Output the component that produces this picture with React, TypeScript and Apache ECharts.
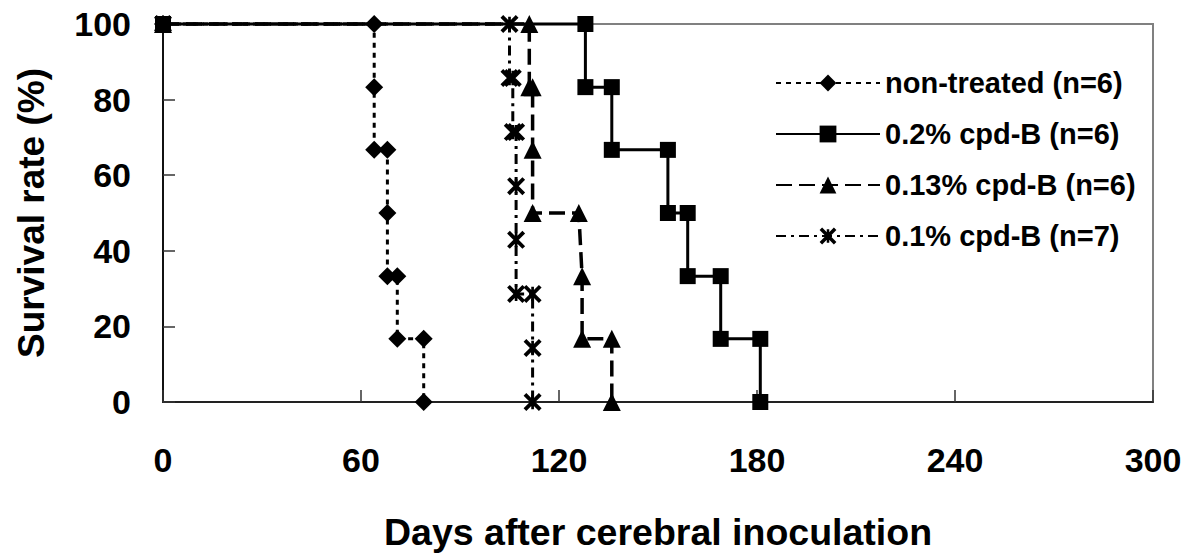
import React, { useEffect, useRef } from "react";
import * as echarts from "echarts";

const xTickInterval = 60;
const xMax = 300;
const yTickInterval = 20;
const yMax = 100;

const seriesNames = [
  "non-treated (n=6)",
  "0.2% cpd-B (n=6)",
  "0.13% cpd-B (n=6)",
  "0.1% cpd-B (n=7)",
];

const nonTreatedDays = [0, 64, 64, 64, 68, 68, 68, 71, 71, 79, 79];
const nonTreatedSurvival = [100, 100, 83.3, 66.7, 66.7, 50, 33.3, 33.3, 16.7, 16.7, 0];

const cpd02Days = [0, 128, 128, 136, 136, 153, 153, 159, 159, 169, 169, 181, 181];
const cpd02Survival = [100, 100, 83.3, 83.3, 66.7, 66.7, 50, 50, 33.3, 33.3, 16.7, 16.7, 0];

const cpd013Days = [0, 111, 111, 112, 112, 112, 126, 127, 127, 136, 136];
const cpd013Survival = [100, 100, 83.3, 83.3, 66.7, 50, 50, 33.3, 16.7, 16.7, 0];

const cpd01Days = [0, 105, 105, 106, 106, 107, 107, 107, 107, 112, 112, 112];
const cpd01Survival = [100, 100, 85.7, 85.7, 71.4, 71.4, 57.1, 42.9, 28.6, 28.6, 14.3, 0];

const starSymbol =
  "path://M1.5,0L10,8.5L8.5,10L0,1.5ZM8.5,0L10,1.5L1.5,10L0,8.5ZM4.25,1L5.75,1L5.75,9L4.25,9Z";

const FONT = "'Liberation Sans', Arial, Helvetica, sans-serif";

function pairs(xs: number[], ys: number[]) {
  return xs.map((x, i) => [x, ys[i]]);
}

export default function App() {
  const ref = useRef<HTMLDivElement>(null);

  useEffect(() => {
    document.body.style.margin = "0";
    if (!ref.current) return;
    const chart = echarts.init(ref.current, undefined, { renderer: "svg" });

    const common = {
      type: "line" as const,
      clip: false,
      itemStyle: { color: "#000" },
      emphasis: { disabled: true },
    };

    chart.setOption({
      animation: false,
      backgroundColor: "#fff",
      textStyle: { fontFamily: FONT },
      grid: {
        left: 163,
        right: 32,
        top: 24,
        bottom: 154,
        show: true,
        borderColor: "#808080",
        borderWidth: 2,
        backgroundColor: "transparent",
      },
      legend: {
        orient: "vertical",
        left: 770,
        top: 63,
        itemWidth: 104,
        itemHeight: 21,
        itemGap: 21,
        data: seriesNames,
        textStyle: {
          fontFamily: FONT,
          fontSize: 29,
          fontWeight: "bold",
          color: "#000",
          lineHeight: 30,
        },
        selectedMode: false,
      },
      xAxis: {
        type: "value",
        min: 0,
        max: xMax,
        interval: xTickInterval,
        name: "Days after cerebral inoculation",
        nameLocation: "middle",
        nameGap: 111,
        nameTextStyle: { fontFamily: FONT, fontSize: 37.5, fontWeight: "bold", color: "#000" },
        axisLine: { show: true, lineStyle: { color: "#222", width: 2 } },
        axisTick: { show: true, inside: true, length: 12, lineStyle: { color: "#333", width: 1.5 } },
        axisLabel: { fontFamily: FONT, fontSize: 34, fontWeight: "bold", color: "#000", margin: 41 },
        splitLine: { show: false },
      },
      yAxis: {
        type: "value",
        min: 0,
        max: yMax,
        interval: yTickInterval,
        name: "Survival rate (%)",
        nameLocation: "middle",
        nameGap: 113,
        nameTextStyle: { fontFamily: FONT, fontSize: 37, fontWeight: "bold", color: "#000" },
        axisLine: { show: true, lineStyle: { color: "#111", width: 2 } },
        axisTick: { show: true, inside: true, length: 12, lineStyle: { color: "#333", width: 1.5 } },
        axisLabel: { fontFamily: FONT, fontSize: 34, fontWeight: "bold", color: "#000", margin: 32 },
        splitLine: { show: false },
      },
      series: [
        {
          ...common,
          name: seriesNames[3],
          data: pairs(cpd01Days, cpd01Survival),
          symbol: starSymbol,
          symbolSize: 18,
          lineStyle: { color: "#000", width: 3, type: [10, 5, 3, 5] },
        },
        {
          ...common,
          name: seriesNames[2],
          data: pairs(cpd013Days, cpd013Survival),
          symbol: "triangle",
          symbolSize: 18,
          lineStyle: { color: "#000", width: 3.5, type: [16, 7] },
        },
        {
          ...common,
          name: seriesNames[0],
          data: pairs(nonTreatedDays, nonTreatedSurvival),
          symbol: "diamond",
          symbolSize: 18,
          lineStyle: { color: "#000", width: 3, type: [5, 5] },
        },
        {
          ...common,
          name: seriesNames[1],
          data: pairs(cpd02Days, cpd02Survival),
          symbol: "rect",
          symbolSize: 16,
          lineStyle: { color: "#000", width: 3, type: "solid" },
        },
      ],
    });

    return () => {
      chart.dispose();
    };
  }, []);

  return <div ref={ref} style={{ width: 1185, height: 556 }} />;
}
